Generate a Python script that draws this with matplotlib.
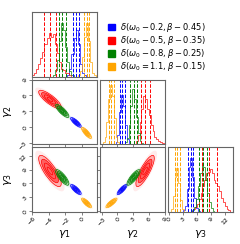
import numpy as np
import matplotlib.pyplot as plt
from matplotlib.patches import Ellipse, Patch

colors = ["blue", "red", "green", "orange"]
labels = [r"$\delta(\omega_0-0.2,\beta-0.45)$",
          r"$\delta(\omega_0-0.5,\beta-0.35)$",
          r"$\delta(\omega_0-0.8,\beta-0.25)$",
          r"$\delta(\omega_0=1.1,\beta-0.15)$"]
names = [r"$\gamma_1$", r"$\gamma_2$", r"$\gamma_3$"]

ranges = [(-6.0, 1.8), (-3.3, 9.0), (-0.2, 13.8)]
ticks = [[-6, -4, -2, 0], [-3, 0, 3, 6, 9], [0, 3, 6, 9, 12]]

# 16 / 50 / 84 % quantiles, order: blue, red, green, orange
q_g1 = [[-1.04, -0.72, -0.40], [-4.52, -3.84, -3.16], [-2.76, -2.36, -1.96], [0.28, 0.56, 0.88]]
q_g2 = [[0.43, 0.87, 1.36], [4.43, 5.24, 6.18], [2.43, 3.05, 3.68], [-1.64, -1.14, -0.58]]
q_g3 = [[4.10, 4.67, 5.20], [7.00, 8.70, 10.40], [6.40, 7.30, 8.10], [1.20, 1.77, 2.25]]
quants = [q_g1, q_g2, q_g3]

# histogram bin widths and per-colour (start, counts)
bin_w = [0.25, 0.35, 0.4]
h_g1 = [(-1.75, [0.03, 0.12, 0.35, 0.60, 0.72, 0.50, 0.20, 0.06, 0.02]),
        (-6.0, [0.02, 0.06, 0.12, 0.20, 0.28, 0.38, 0.50, 0.60, 0.68, 0.62, 0.66, 0.50,
                0.36, 0.22, 0.12, 0.10, 0.05, 0.06, 0.03]),
        (-3.5, [0.03, 0.10, 0.25, 0.55, 0.83, 0.72, 0.45, 0.22, 0.08, 0.03]),
        (-0.5, [0.02, 0.08, 0.30, 0.62, 0.83, 0.55, 0.22, 0.06, 0.02])]
h_g2 = [(-0.35, [0.03, 0.15, 0.50, 0.77, 0.60, 0.30, 0.08, 0.02]),
        (3.5, [0.05, 0.15, 0.35, 0.55, 0.75, 0.70, 0.55, 0.45, 0.30, 0.20, 0.12, 0.08,
               0.05, 0.04, 0.02]),
        (1.4, [0.03, 0.10, 0.30, 0.60, 0.85, 0.70, 0.42, 0.18, 0.05, 0.02]),
        (-2.8, [0.03, 0.12, 0.35, 0.70, 0.92, 0.75, 0.40, 0.12, 0.03])]
h_g3 = [(3.0, [0.03, 0.10, 0.35, 0.70, 0.84, 0.55, 0.22, 0.06, 0.02]),
        (4.8, [0.02, 0.04, 0.07, 0.12, 0.20, 0.30, 0.40, 0.50, 0.60, 0.62, 0.66, 0.60,
               0.50, 0.45, 0.40, 0.32, 0.22, 0.15, 0.10, 0.05, 0.03]),
        (5.0, [0.03, 0.08, 0.20, 0.40, 0.60, 0.76, 0.70, 0.50, 0.30, 0.15, 0.06, 0.02]),
        (0.4, [0.05, 0.25, 0.55, 0.68, 0.45, 0.18, 0.05])]
hists = [h_g1, h_g2, h_g3]

# correlation between parameter pairs (i, j)
rho = {(1, 0): -0.82, (2, 0): -0.80, (2, 1): 0.82}

frame = "0.4"

fig, axes = plt.subplots(3, 3, figsize=(2.4, 2.44), dpi=100)
fig.subplots_adjust(left=32 / 240, right=233 / 240, bottom=1 - 212 / 244,
                    top=1 - 12 / 244, wspace=0.05, hspace=0.05)


def ellipse(ax, cx, cy, sx, sy, r, k, **kw):
    cov = np.array([[sx * sx, r * sx * sy], [r * sx * sy, sy * sy]])
    vals, vecs = np.linalg.eigh(cov)
    ang = np.degrees(np.arctan2(vecs[1, 1], vecs[0, 1]))
    e = Ellipse((cx, cy), 2 * k * np.sqrt(vals[1]), 2 * k * np.sqrt(vals[0]),
                angle=ang, **kw)
    ax.add_patch(e)


for i in range(3):
    for j in range(3):
        ax = axes[i, j]
        if j > i:
            ax.axis("off")
            continue
        for sp in ax.spines.values():
            sp.set_color(frame)
            sp.set_linewidth(0.8)
        ax.tick_params(labelsize=4.5, length=2, width=0.5, color="0.3", pad=1)
        ax.set_xlim(ranges[j])
        ax.set_xticks(ticks[j])
        if i == j:
            for c, (start, cnt), q in zip(colors, hists[i], quants[i]):
                edges = start + bin_w[i] * np.arange(len(cnt) + 1)
                ax.stairs(cnt, edges, color=c, lw=0.6, alpha=0.8)
                for v in q:
                    ax.axvline(v, color=c, ls="--", lw=0.7)
            ax.set_ylim(0, 1)
            ax.set_yticks([])
        else:
            ax.set_ylim(ranges[i])
            ax.set_yticks(ticks[i])
            r = rho[(i, j)]
            for c, qx, qy in zip(colors, quants[j], quants[i]):
                sx = (qx[2] - qx[0]) / 2
                sy = (qy[2] - qy[0]) / 2
                ellipse(ax, qx[1], qy[1], sx, sy, r, 2.6, color=c, alpha=0.08, lw=0)
                ellipse(ax, qx[1], qy[1], sx, sy, r, 2.0, color=c, alpha=0.25, lw=0)
                ellipse(ax, qx[1], qy[1], sx, sy, r, 1.5, color=c, alpha=0.45, lw=0)
                for k in [0.5, 1.0, 1.5, 2.0]:
                    ellipse(ax, qx[1], qy[1], sx, sy, r, k, fill=False,
                            edgecolor=c, lw=0.5)
        if i == 2:
            ax.set_xlabel(names[j], fontsize=8)
            ax.xaxis.set_label_coords(0.5, -0.25)
            for t in ax.get_xticklabels():
                t.set_rotation(45)
        else:
            ax.set_xticklabels([])
        if j == 0 and i > 0:
            ax.set_ylabel(names[i], fontsize=8)
            ax.yaxis.set_label_coords(-0.27, 0.5)
            for t in ax.get_yticklabels():
                t.set_rotation(45)
        elif i != j:
            ax.set_yticklabels([])

handles = [Patch(color=c) for c in colors]
fig.legend(handles, labels, loc="upper left", bbox_to_anchor=(102 / 240, 1 - 15 / 244),
           frameon=False, fontsize=6, handlelength=0.9, handleheight=0.9,
           handletextpad=0.6, labelspacing=0.02, borderpad=0.2)

fig.savefig("out.png", dpi=100)
